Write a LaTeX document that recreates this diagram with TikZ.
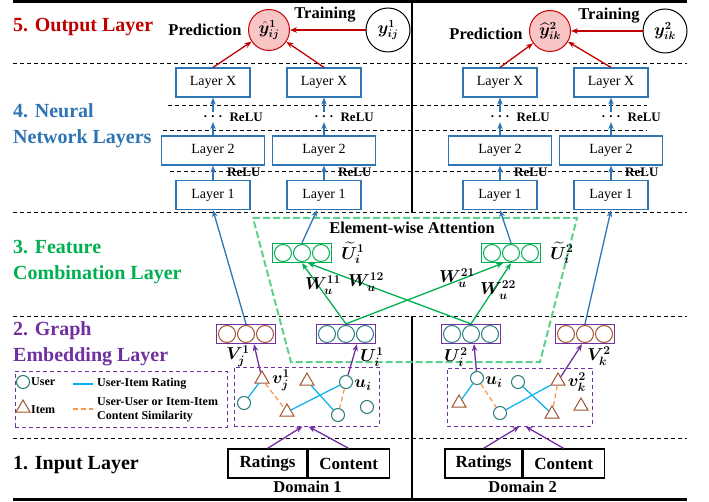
\documentclass[tikz,border=0pt]{standalone}
\usepackage{fontspec}
\setmainfont{Liberation Serif}
\usepackage{amsmath, bm}
\usetikzlibrary{arrows.meta, positioning, shapes.geometric}
\definecolor{OutRed}{HTML}{C00000}
\definecolor{PredPink}{HTML}{F9C4C4}
\definecolor{NNBlue}{HTML}{2E75B6}
\definecolor{FCGreen}{HTML}{00B050}
\definecolor{AttGreen}{HTML}{5FD08A}
\definecolor{GEPurple}{HTML}{7030A0}
\definecolor{UserTeal}{HTML}{2A7B7B}
\definecolor{ItemBrown}{HTML}{A0522D}
\definecolor{RateBlue}{HTML}{00B0F0}
\definecolor{SimOrange}{HTML}{F79646}

% embedding vector: box with three circles
\newcommand{\embvec}[4]{%
  \node[vecbox, draw=#3] (#1) at #2 {};
  \foreach \dx in {-19,0,19}
    \draw[#4, line width=1pt] (#1.center) ++(\dx,0) circle (8.5pt);
}

\begin{document}
\begin{tikzpicture}[x=1pt, y=-1pt, >={Stealth[length=7pt, width=5.5pt]},
  secfont/.style={font=\fontsize{20}{26}\selectfont\bfseries, align=left, anchor=west, inner sep=0pt},
  boldlab/.style={font=\fontsize{16.5}{19}\selectfont\bfseries, inner sep=1pt},
  mlab/.style={font=\fontsize{17}{19}\selectfont, inner sep=1pt},
  relu/.style={font=\fontsize{13}{15}\selectfont\bfseries, inner sep=0pt},
  dots/.style={relu, minimum height=10, minimum width=14},
  legtext/.style={font=\fontsize{12}{14}\selectfont\bfseries, anchor=west, inner sep=0pt},
  sepline/.style={dash pattern=on 4pt off 3pt, line width=0.7pt},
  pred/.style={circle, draw=OutRed!85!red, fill=PredPink, line width=1pt, minimum size=41, inner sep=0pt, font=\fontsize{16}{18}\selectfont},
  truth/.style={circle, draw, line width=1pt, minimum size=44, inner sep=0pt, font=\fontsize{16}{18}\selectfont},
  outarrow/.style={->, OutRed, line width=1.3pt},
  nnbox/.style={draw=NNBlue, line width=1.2pt, minimum width=74, minimum height=29, inner sep=0pt, font=\fontsize{14}{16}\selectfont},
  nnarrow/.style={->, NNBlue, line width=1.3pt},
  vecbox/.style={line width=1.3pt, minimum width=59, minimum height=19, inner sep=0pt},
  warrow/.style={->, FCGreen, line width=1.3pt},
  attn/.style={AttGreen, line width=2pt, dash pattern=on 7pt off 3pt},
  garrow/.style={->, GEPurple, line width=1.3pt},
  gbox/.style={draw=GEPurple, line width=1pt, dash pattern=on 4pt off 3pt},
  user/.style={circle, draw=UserTeal, fill=white, line width=1pt, minimum size=13, inner sep=0pt},
  item/.style={regular polygon, regular polygon sides=3, draw=ItemBrown, fill=white, line width=1pt, minimum size=16, inner sep=0pt},
  rate/.style={RateBlue, line width=1.2pt},
  sim/.style={SimOrange, line width=1.2pt, dash pattern=on 5pt off 3pt},
  inbox/.style={draw, line width=1.2pt, minimum height=29, inner sep=0pt, font=\fontsize{17}{19}\selectfont\bfseries}]
  \useasboundingbox (0,0) rectangle (709,502);

  % --- frame and layer separators ---
  \draw[line width=3pt] (13,1.5) -- (687,1.5);
  \draw[line width=3pt] (13,499) -- (687,499);
  \draw[line width=2pt] (412,0) -- (412,213);
  \draw[line width=2pt] (412,316) -- (412,500);
  \foreach \y/\xa/\xb in {63/13/687, 105/168/647, 130/163/647, 171/170/647,
                          212/13/687, 316/13/687, 438/13/687}
    \draw[sepline] (\xa,\y) -- (\xb,\y);

  % --- layer titles ---
  \node[secfont, text=OutRed] (sec5) at (13,27) {5. Output Layer};
  \node[secfont, text=NNBlue] (sec4) at (13,126) {4. Neural\\Network Layers};
  \node[secfont, text=FCGreen] (sec3) at (13,262) {3. Feature\\Combination Layer};
  \node[secfont, text=GEPurple] (sec2) at (13,344) {2. Graph\\Embedding Layer};
  \node[secfont] (sec1) at (13,465) {1. Input Layer};

  % --- 4. neural network columns ---
  \foreach \cx/\c in {213/a, 324/b, 500/c, 611/d}{
    \node[nnbox] (L1\c) at (\cx,195) {Layer 1};
    \node[nnbox, minimum width=103] (L2\c) at (\cx,150.5) {Layer 2};
    \node[nnbox] (LX\c) at (\cx,82.5) {Layer X};
    \node[dots] (D\c) at (\cx,117) {. . .};
    \node[relu, right=7pt of D\c] (R\c) {ReLU};
    \node[relu, anchor=west] (Q\c) at (\cx+14,172) {ReLU};
    \draw[nnarrow] (L1\c) -- (L2\c);
    \draw[nnarrow] (L2\c) -- (D\c);
    \draw[nnarrow] (D\c) -- (LX\c);
  }

  % --- 5. output layer ---
  \node[pred] (yhat1) at (269,30) {$\bm{\hat{y}^1_{ij}}$};
  \node[truth] (y1) at (388,30) {$\bm{y^1_{ij}}$};
  \node[boldlab] (pred1) at (205,30) {Prediction};
  \node[boldlab] (train1) at (325,15) {Training};
  \node[pred] (yhat2) at (550,31) {$\bm{\widehat{y}^2_{ik}}$};
  \node[truth] (y2) at (665,31) {$\bm{y^2_{ik}}$};
  \node[boldlab] (pred2) at (486,34) {Prediction};
  \node[boldlab] (train2) at (609,16) {Training};
  \draw[outarrow] (y1) -- (yhat1);
  \draw[outarrow] (y2) -- (yhat2);
  \draw[outarrow] (LXa.north) -- (yhat1);
  \draw[outarrow] (LXb.north) -- (yhat1);
  \draw[outarrow] (LXc.north) -- (yhat2);
  \draw[outarrow] (LXd.north) -- (yhat2);

  % --- 3. feature combination ---
  \draw[attn] (253,218) -- (577,218) -- (540,362) -- (291,362) -- cycle;
  \node[boldlab] (att) at (412,228) {Element-wise Attention};
  \embvec{Ut1}{(302,253)}{FCGreen}{FCGreen}
  \embvec{Ut2}{(511,253)}{FCGreen}{FCGreen}
  \node[mlab, right=8pt of Ut1] (Ut1l) {$\bm{\widetilde{U}^1_i}$};
  \node[mlab, right=8pt of Ut2] (Ut2l) {$\bm{\widetilde{U}^2_i}$};

  % --- 2. graph embedding ---
  \embvec{V1}{(246,334)}{GEPurple}{ItemBrown}
  \embvec{U1}{(346,334)}{GEPurple}{UserTeal}
  \embvec{U2}{(471,334)}{GEPurple}{UserTeal}
  \embvec{V2}{(585,334)}{GEPurple}{ItemBrown}
  \node[mlab] (V1l) at (238,356) {$\bm{V^1_j}$};
  \node[mlab] (U1l) at (372,357) {$\bm{U^1_i}$};
  \node[mlab] (U2l) at (456,357) {$\bm{U^2_i}$};
  \node[mlab] (V2l) at (599,356) {$\bm{V^2_k}$};

  \draw[warrow] (U1.north) -- (Ut1.south);
  \draw[warrow] (U1.north) -- ([xshift=-8]Ut2.south);
  \draw[warrow] (U2.north) -- ([xshift=6]Ut1.south);
  \draw[warrow] (U2.north) -- (Ut2.south);
  \node[mlab] (w11) at (323,285) {$\bm{W^{11}_u}$};
  \node[mlab] (w12) at (366,282) {$\bm{W^{12}_u}$};
  \node[mlab] (w21) at (457,278) {$\bm{W^{21}_u}$};
  \node[mlab] (w22) at (498,290) {$\bm{W^{22}_u}$};

  \draw[nnarrow] (V1.north) -- (L1a.south);
  \draw[nnarrow] (Ut1.north) -- ([xshift=-7]L1b.south);
  \draw[nnarrow] (Ut2.north) -- (L1c.south);
  \draw[nnarrow] (V2.north) -- (L1d.south);

  % graphs of domain 1 and domain 2
  \node[gbox, minimum width=145, minimum height=59] (G1) at (306.5,396.5) {};
  \node[gbox, minimum width=145, minimum height=58] (G2) at (519.5,397) {};

  \node[item] (d1v) at (262,379) {};
  \node[item] (d1t2) at (307,381) {};
  \node[user] (d1c1) at (244,403) {};
  \node[item] (d1t3) at (287,412) {};
  \node[user] (d1u) at (346,382) {};
  \node[user] (d1c2) at (338,415) {};
  \node[user] (d1c3) at (367,407) {};
  \draw[rate] (d1v) -- (d1c1);
  \draw[sim] (d1v) -- (d1t3);
  \draw[rate] (d1t3) -- (d1u);
  \draw[rate] (d1t2) -- (d1c2);
  \draw[sim] (d1u) -- (d1c2);
  \node[mlab] (d1vl) at (281,380) {$\bm{v^1_j}$};
  \node[mlab] (d1ul) at (363,385) {$\bm{u_i}$};

  \node[user] (d2u) at (477,378) {};
  \node[user] (d2c1) at (518,382) {};
  \node[item] (d2t1) at (459,403) {};
  \node[user] (d2c2) at (500,413) {};
  \node[item] (d2v) at (558,381) {};
  \node[item] (d2t2) at (552,414) {};
  \node[item] (d2t3) at (581,406) {};
  \draw[rate] (d2u) -- (d2t1);
  \draw[sim] (d2u) -- (d2c2);
  \draw[rate] (d2c2) -- (d2v);
  \draw[rate] (d2c1) -- (d2t2);
  \draw[sim] (d2v) -- (d2t2);
  \node[mlab] (d2ul) at (494,382) {$\bm{u_i}$};
  \node[mlab] (d2vl) at (577,382) {$\bm{v^2_k}$};

  \draw[garrow] (d1v) -- ([xshift=8]V1.south);
  \draw[garrow] (d1u) -- ([xshift=11]U1.south);
  \draw[garrow] (d2u) -- ([xshift=3]U2.south);
  \draw[garrow] (d2v) -- ([xshift=-3]V2.south);

  % legend
  \node[gbox, minimum width=212, minimum height=56] (leg) at (121,399) {};
  \node[user] (lgu) at (23,382) {};
  \node[legtext] (lgut) at (31,382) {User};
  \node[item] (lgi) at (23,408) {};
  \node[legtext] (lgit) at (31,410) {Item};
  \coordinate (lgr0) at (73,384);
  \coordinate (lgr1) at (93,384);
  \coordinate (lgs0) at (73,409);
  \coordinate (lgs1) at (93,409);
  \draw[rate] (lgr0) -- (lgr1);
  \draw[sim] (lgs0) -- (lgs1);
  \node[legtext] (lgrt) at (97,384) {User-Item Rating};
  \node[legtext] (lgst) at (97,402) {User-User or Item-Item};
  \node[legtext] (lgst2) at (97,417) {Content Similarity};

  % --- 1. input layer ---
  \node[inbox, minimum width=79] (R1) at (267.5,463.5) {Ratings};
  \node[inbox, minimum width=81, right=0pt of R1] (C1) {Content};
  \node[boldlab, below=1pt of R1.south east] (dom1) {Domain 1};
  \node[inbox, minimum width=77] (R2) at (483.5,463.5) {Ratings};
  \node[inbox, minimum width=81, right=0pt of R2] (C2) {Content};
  \node[boldlab, below=1pt of R2.south east] (dom2) {Domain 2};
  \draw[garrow] (R1.north) -- ([xshift=-4]G1.south);
  \draw[garrow] (C1.north) -- ([xshift=2]G1.south);
  \draw[garrow] (R2.north) -- (G2.south);
  \draw[garrow] (C2.north) -- ([xshift=6]G2.south);
\end{tikzpicture}
\end{document}
